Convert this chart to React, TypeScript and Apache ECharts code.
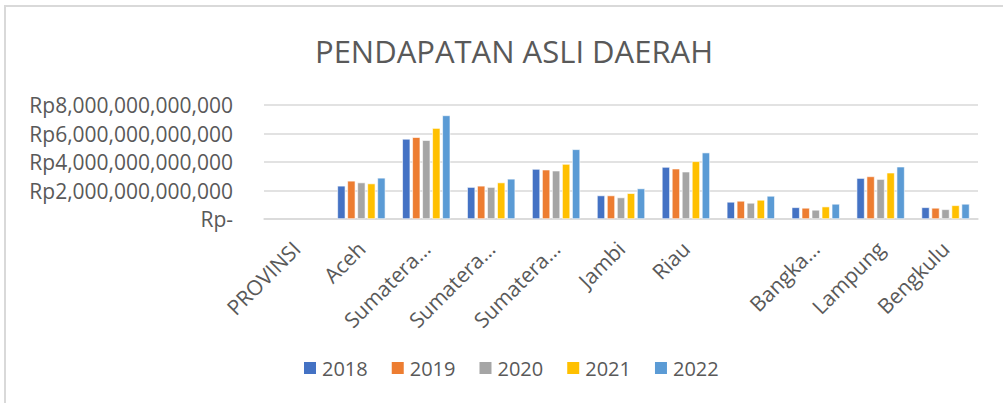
import React, { useEffect, useRef } from "react";
import * as echarts from "echarts";

const categories = [
  "PROVINSI",
  "Aceh",
  "Sumatera Utara",
  "Sumatera Barat",
  "Sumatera Selatan",
  "Jambi",
  "Riau",
  "Kepulauan Riau",
  "Bangka Belitung",
  "Lampung",
  "Bengkulu",
];
const categoryLabels = [
  "PROVINSI",
  "Aceh",
  "Sumatera…",
  "Sumatera…",
  "Sumatera…",
  "Jambi",
  "Riau",
  "",
  "Bangka…",
  "Lampung",
  "Bengkulu",
];
const years = ["2018", "2019", "2020", "2021", "2022"];
const colors = ["#4472C4", "#ED7D31", "#A5A5A5", "#FFC000", "#5B9BD5"];

const T = 1e12;
const v2018 = [null, 2.33 * T, 5.62 * T, 2.24 * T, 3.51 * T, 1.65 * T, 3.65 * T, 1.2 * T, 0.82 * T, 2.87 * T, 0.82 * T];
const v2019 = [null, 2.68 * T, 5.74 * T, 2.33 * T, 3.46 * T, 1.65 * T, 3.53 * T, 1.27 * T, 0.78 * T, 2.99 * T, 0.78 * T];
const v2020 = [null, 2.56 * T, 5.53 * T, 2.24 * T, 3.39 * T, 1.51 * T, 3.32 * T, 1.13 * T, 0.64 * T, 2.8 * T, 0.68 * T];
const v2021 = [null, 2.49 * T, 6.38 * T, 2.56 * T, 3.86 * T, 1.81 * T, 4.05 * T, 1.34 * T, 0.87 * T, 3.25 * T, 0.96 * T];
const v2022 = [null, 2.89 * T, 7.27 * T, 2.82 * T, 4.89 * T, 2.14 * T, 4.66 * T, 1.62 * T, 1.06 * T, 3.67 * T, 1.06 * T];
const seriesValues = [v2018, v2019, v2020, v2021, v2022];

const yTickLabels = [
  "Rp-",
  "Rp2,000,000,000,000",
  "Rp4,000,000,000,000",
  "Rp6,000,000,000,000",
  "Rp8,000,000,000,000",
];
const yStep = 2 * T;
const yMax = 8 * T;

const FONT = "'Open Sans', sans-serif";
const TXT = "#595959";
const GRID = "#d9d9d9";

export default function App() {
  const ref = useRef<HTMLDivElement>(null);
  useEffect(() => {
    if (!ref.current) return;
    const chart = echarts.init(ref.current, null, { renderer: "svg" });
    chart.setOption({
      animation: false,
      backgroundColor: "#ffffff",
      textStyle: { fontFamily: FONT, color: TXT },
      graphic: [
        {
          type: "rect",
          shape: { x: 5, y: 6, width: 1100, height: 500 },
          style: { fill: "none", stroke: GRID, lineWidth: 2 },
          silent: true,
        },
      ],
      title: {
        text: "PENDAPATAN ASLI DAERAH",
        left: 509,
        textAlign: "center",
        top: 30,
        textStyle: { fontFamily: FONT, fontSize: 31, fontWeight: "normal", color: TXT },
      },
      legend: {
        data: years,
        left: 297,
        top: 353,
        itemWidth: 14,
        itemHeight: 14,
        itemGap: 22,
        icon: "rect",
        textStyle: { fontFamily: FONT, fontSize: 20, color: TXT },
      },
      grid: { left: 264, right: 25, top: 105, bottom: 184, containLabel: false },
      xAxis: {
        type: "category",
        data: categories,
        axisLine: { lineStyle: { color: GRID, width: 1.5 } },
        axisTick: { show: false },
        axisLabel: {
          rotate: 45,
          interval: 0,
          margin: 26,
          fontFamily: FONT,
          fontSize: 21,
          color: TXT,
          formatter: (_v: string, i: number) => categoryLabels[i],
        },
      },
      yAxis: {
        type: "value",
        min: 0,
        max: yMax,
        interval: yStep,
        axisLine: { show: false },
        axisTick: { show: false },
        splitLine: { lineStyle: { color: GRID, width: 1.5 } },
        axisLabel: {
          margin: 31,
          fontFamily: FONT,
          fontSize: 21,
          color: TXT,
          formatter: (v: number) => yTickLabels[Math.round(v / yStep)],
        },
      },
      series: years.map((y, i) => ({
        name: y,
        type: "bar",
        data: seriesValues[i],
        barGap: "25%",
        barCategoryGap: "26%",
        itemStyle: { color: colors[i], borderColor: "#ffffff", borderWidth: 0.6 },
      })),
    });
    return () => chart.dispose();
  }, []);
  return (
    <div
      ref={ref}
      style={{ position: "fixed", left: 0, top: 0, width: 1003, height: 403 }}
    />
  );
}
